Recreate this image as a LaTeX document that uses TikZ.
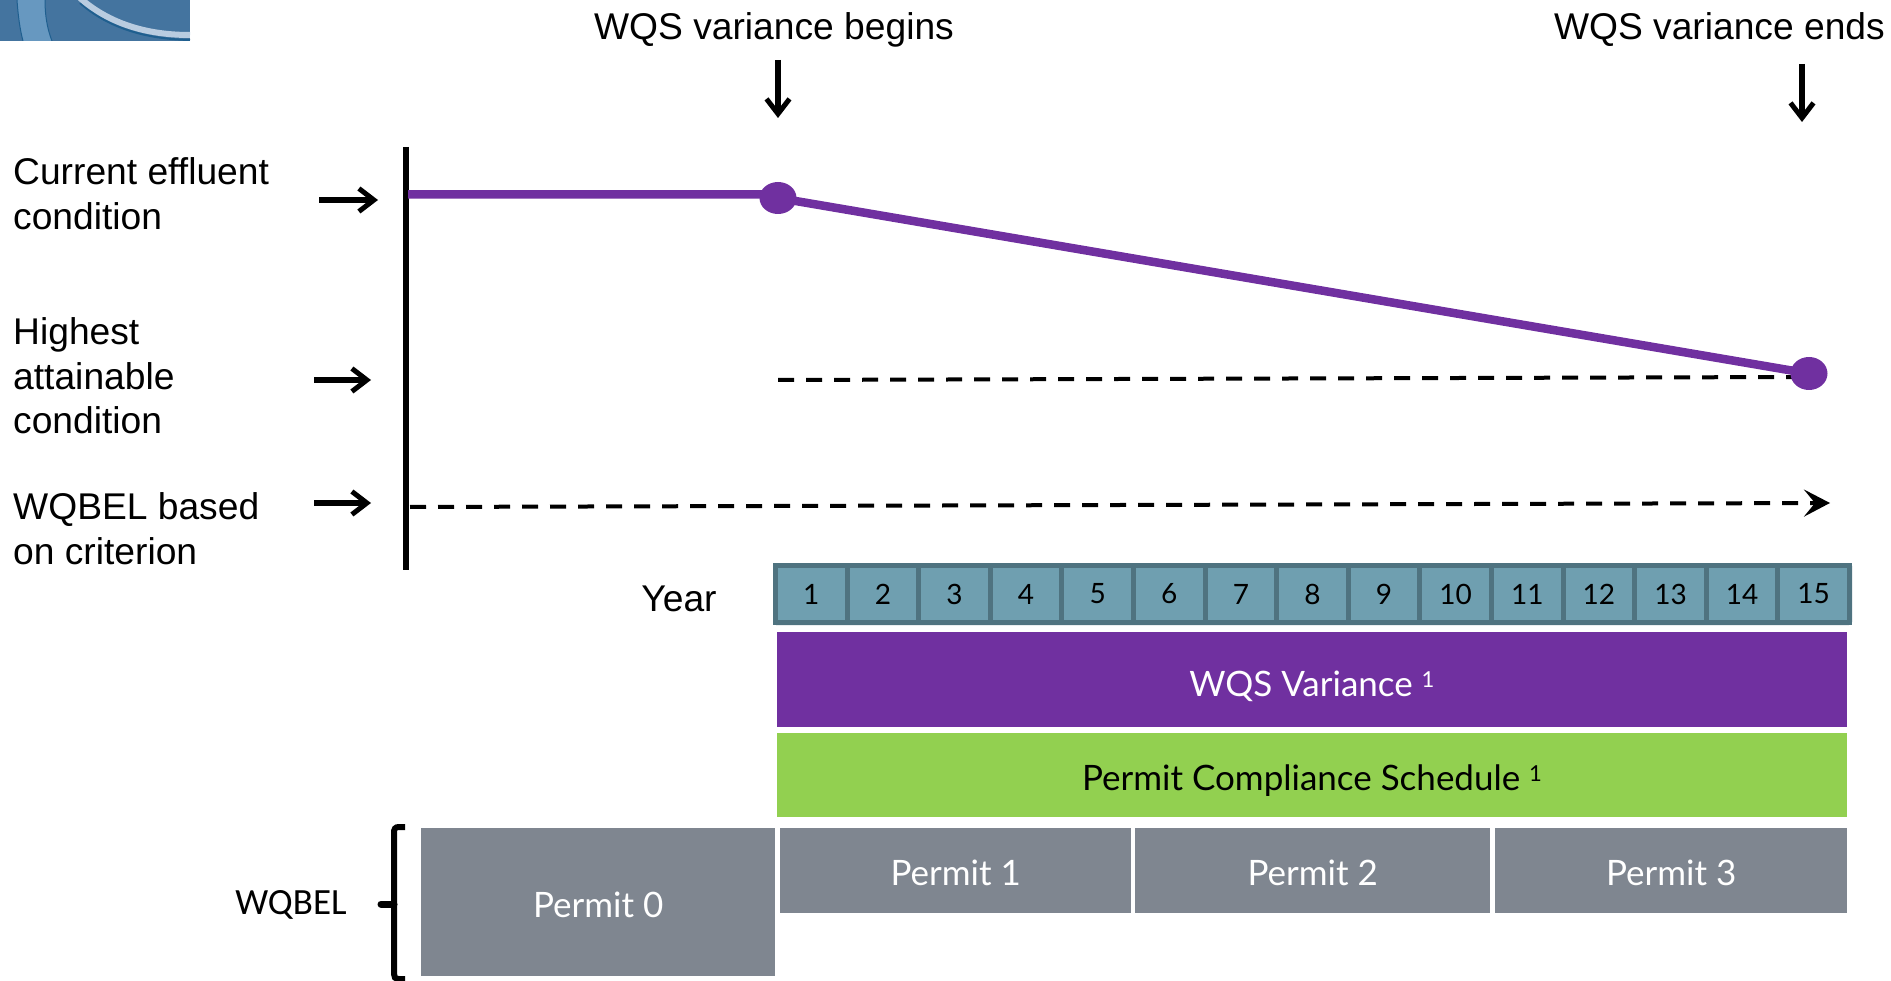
\documentclass[tikz,border=0pt]{standalone}
\usepackage{fontspec}
\setmainfont{Liberation Sans}
\newfontfamily\gill{Lato}
\newfontfamily\calib{Carlito}
\usetikzlibrary{arrows.meta,shapes.geometric}
\definecolor{vio}{HTML}{7030A0}
\definecolor{grn}{HTML}{92D050}
\definecolor{gry}{HTML}{7F8690}
\definecolor{teal1}{HTML}{6F9FB0}
\definecolor{teal2}{HTML}{4F7380}
\definecolor{logoA}{HTML}{44749F}
\definecolor{logoB}{HTML}{6798C0}
\definecolor{logoC}{HTML}{B9CCE0}
\definecolor{logoD}{HTML}{1F5F8F}
\tikzset{
 x=1pt,y=-1pt,
 lab/.style={font=\fontsize{37.2}{37.2}\selectfont,inner sep=0pt,text=black},
 llab/.style={lab,anchor=base west},
 pointer/.style={line width=5.4pt,-{Straight Barb[length=15pt,width=23pt,line width=5pt]}},
 dashln/.style={line width=4pt,dash pattern=on 16pt off 12pt},
 trend/.style={vio,line width=8.5pt},
 dotnode/.style={ellipse,fill=vio,inner sep=0pt},
 yearcell/.style={draw=teal2,fill=teal1,line width=5pt,minimum width=71.6pt,minimum height=57pt,inner sep=0pt,font=\gill\fontsize{28}{28}\selectfont,text=black},
 bar/.style={anchor=north west,inner sep=0pt,font=\gill\fontsize{35}{35}\selectfont},
 permit/.style={bar,fill=gry,text=white,text height=30pt,text depth=0pt},
}
\begin{document}
\begin{tikzpicture}
\useasboundingbox (0,0) rectangle (1891,981);
% logo
\begin{scope}
\clip (0,0) rectangle (190,41);
\fill[logoA] (0,0) rectangle (190,41);
\fill[logoB] (17,0) .. controls (18,15) and (20,30) .. (23,41) -- (52,41) .. controls (47,28) and (45,15) .. (45,0) -- cycle;
\draw[logoD,line width=1pt] (17,0) .. controls (18,15) and (20,30) .. (23,41);
\draw[logoD,line width=1pt] (45,0) .. controls (45,15) and (47,28) .. (52,41);
\draw[logoD,line width=2pt] (80,3) .. controls (105,25) and (140,39) .. (190,40);
\draw[logoC,line width=6pt] (80,-2) .. controls (105,20) and (140,35) .. (190,35);
\end{scope}
% top labels
\node[lab,anchor=base] (beginlab) at (774,40) {WQS variance begins};
\node[lab,anchor=base east] (endlab) at (1885,40) {WQS variance ends};
\coordinate (a1s) at (778,60); \coordinate (a1e) at (778,118);
\coordinate (a2s) at (1802,64); \coordinate (a2e) at (1802,122);
\draw[pointer] (a1s) -- (a1e);
\draw[pointer] (a2s) -- (a2e);
% left labels
\node[llab] (l1) at (13,185) {Current effluent};
\node[llab] (l1b) at (13,230) {condition};
\node[llab] (l2) at (13,345) {Highest};
\node[llab] (l2b) at (13,390) {attainable};
\node[llab] (l2c) at (13,434) {condition};
\node[llab] (l3) at (13,519) {WQBEL based};
\node[llab] (l3b) at (13,564) {on criterion};
\coordinate (p1s) at (319,200); \coordinate (p1e) at (378,200);
\coordinate (p2s) at (314,380); \coordinate (p2e) at (371,380);
\coordinate (p3s) at (314,503); \coordinate (p3e) at (371,503);
\draw[pointer] (p1s) -- (p1e);
\draw[pointer] (p2s) -- (p2e);
\draw[pointer] (p3s) -- (p3e);
% axis
\coordinate (axT) at (406,147); \coordinate (axB) at (406,570);
\draw[line width=5.5pt] (axT) -- (axB);
% dashed
\coordinate (d1s) at (778,380); \coordinate (d1e) at (1800,377);
\draw[dashln] (d1s) -- (d1e);
\coordinate (d2s) at (410,507); \coordinate (d2e) at (1830,503);
\draw[dashln,-{Stealth[length=26pt,width=27pt,inset=11pt]}] (d2s) -- (d2e);
% trend
\coordinate (t0) at (408,194.5);
\node[dotnode,minimum width=37pt,minimum height=32pt] (dotA) at (778,198) {};
\node[dotnode,minimum width=37pt,minimum height=33pt] (dotB) at (1809,373.5) {};
\draw[trend] (t0) -- (778,194.5) -- (dotA.center) -- (dotB.center);
% year row
\fill[teal2,rounded corners=3pt] (773,563) rectangle (1852,625);
\foreach \i in {1,...,15}{
 \node[yearcell] (y\i) at ({775.5+35.8+71.6*(\i-1)},594) {\i};
}
\node[lab,anchor=base] (year) at (679,611) {Year};
% bars
\node[bar,fill=vio,text=white,minimum width=1070pt,minimum height=95pt,text height=33pt,text depth=0pt] (var) at (777,632) {WQS Variance $^{\hbox{\fontsize{22}{22}\selectfont 1}}$};
\node[bar,fill=grn,text=black,minimum width=1070pt,minimum height=84pt,text height=30pt,text depth=0pt] (pcs) at (777,733) {Permit Compliance Schedule $^{\hbox{\fontsize{22}{22}\selectfont 1}}$};
\node[permit,minimum width=354pt,minimum height=148pt] (p0) at (421,828) {Permit 0};
\node[permit,minimum width=351pt,minimum height=85pt] (p1) at (780,828) {Permit 1};
\node[permit,minimum width=355pt,minimum height=85pt] (p2) at (1135,828) {Permit 2};
\node[permit,minimum width=352pt,minimum height=85pt] (p3) at (1495,828) {Permit 3};
% brace
\node[inner sep=0pt,anchor=base,font=\calib\fontsize{37}{37}\selectfont] (wq) at (291,914) {WQBEL};
\coordinate (bT) at (405,827); \coordinate (bB) at (405,979); \coordinate (bM) at (381,904);
\draw[line width=6pt] (bT) -- (399,827) .. controls (395,827) and (394,829) .. (394,833) -- (394,974) .. controls (394,977) and (395,979) .. (399,979) -- (bB);
\draw[line width=7pt,line cap=round] (bM) -- (394,904);
\end{tikzpicture}
\end{document}
